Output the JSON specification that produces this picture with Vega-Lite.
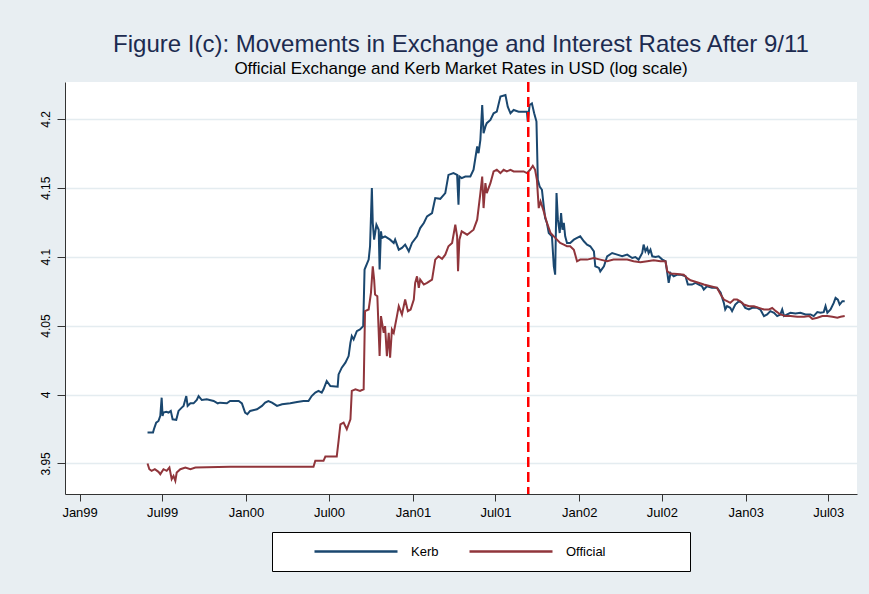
{
  "$schema": "https://vega.github.io/schema/vega-lite/v6.json",
  "width": 792,
  "height": 412,
  "autosize": {"type": "none"},
  "padding": {"left": 65, "top": 82, "right": 12, "bottom": 100},
  "background": "#e8eef2",
  "title": {
    "text": "Figure I(c): Movements in Exchange and Interest Rates After 9/11",
    "subtitle": "Official Exchange and Kerb Market Rates in USD (log scale)",
    "anchor": "middle",
    "font": "Liberation Sans",
    "fontSize": 24,
    "fontWeight": "normal",
    "color": "#1c2b50",
    "subtitleFont": "Liberation Sans",
    "subtitleFontSize": 17,
    "subtitleColor": "#000000",
    "subtitlePadding": 4,
    "offset": 4
  },
  "config": {
    "font": "Liberation Sans",
    "view": {"fill": "white", "stroke": null}
  },
  "datasets": {
    "rates": [
      {"d":"1999-05-30","s":"Kerb","v":3.9724},{"d":"1999-06-11","s":"Kerb","v":3.9724},{"d":"1999-06-13","s":"Kerb","v":3.9748},{"d":"1999-06-18","s":"Kerb","v":3.9796},{"d":"1999-06-23","s":"Kerb","v":3.9808},{"d":"1999-06-27","s":"Kerb","v":3.9845},{"d":"1999-06-30","s":"Kerb","v":3.9977},{"d":"1999-07-02","s":"Kerb","v":3.9845},{"d":"1999-07-04","s":"Kerb","v":3.9869},{"d":"1999-07-10","s":"Kerb","v":3.9874},{"d":"1999-07-15","s":"Kerb","v":3.9869},{"d":"1999-07-20","s":"Kerb","v":3.9881},{"d":"1999-07-24","s":"Kerb","v":3.9820},{"d":"1999-08-01","s":"Kerb","v":3.9816},{"d":"1999-08-06","s":"Kerb","v":3.9881},{"d":"1999-08-13","s":"Kerb","v":3.9905},{"d":"1999-08-17","s":"Kerb","v":3.9917},{"d":"1999-08-23","s":"Kerb","v":3.9989},{"d":"1999-08-26","s":"Kerb","v":3.9917},{"d":"1999-09-01","s":"Kerb","v":3.9936},{"d":"1999-09-08","s":"Kerb","v":3.9936},{"d":"1999-09-15","s":"Kerb","v":3.9960},{"d":"1999-09-19","s":"Kerb","v":3.9989},{"d":"1999-09-26","s":"Kerb","v":3.9960},{"d":"1999-10-07","s":"Kerb","v":3.9965},{"d":"1999-10-22","s":"Kerb","v":3.9953},{"d":"1999-10-31","s":"Kerb","v":3.9936},{"d":"1999-11-05","s":"Kerb","v":3.9941},{"d":"1999-11-20","s":"Kerb","v":3.9936},{"d":"1999-11-27","s":"Kerb","v":3.9953},{"d":"1999-12-05","s":"Kerb","v":3.9953},{"d":"1999-12-16","s":"Kerb","v":3.9953},{"d":"1999-12-23","s":"Kerb","v":3.9936},{"d":"1999-12-30","s":"Kerb","v":3.9869},
      {"d":"2000-01-04","s":"Kerb","v":3.9857},{"d":"2000-01-10","s":"Kerb","v":3.9881},{"d":"2000-01-25","s":"Kerb","v":3.9893},{"d":"2000-02-05","s":"Kerb","v":3.9917},{"d":"2000-02-12","s":"Kerb","v":3.9941},{"d":"2000-02-19","s":"Kerb","v":3.9953},{"d":"2000-02-27","s":"Kerb","v":3.9941},{"d":"2000-03-09","s":"Kerb","v":3.9917},{"d":"2000-03-20","s":"Kerb","v":3.9929},{"d":"2000-04-07","s":"Kerb","v":3.9936},{"d":"2000-04-22","s":"Kerb","v":3.9946},{"d":"2000-05-06","s":"Kerb","v":3.9953},{"d":"2000-05-17","s":"Kerb","v":3.9953},{"d":"2000-05-24","s":"Kerb","v":3.9989},{"d":"2000-06-01","s":"Kerb","v":4.0014},{"d":"2000-06-08","s":"Kerb","v":4.0026},{"d":"2000-06-15","s":"Kerb","v":4.0014},{"d":"2000-06-19","s":"Kerb","v":4.0038},{"d":"2000-06-26","s":"Kerb","v":4.0098},{"d":"2000-07-04","s":"Kerb","v":4.0062},{"d":"2000-07-20","s":"Kerb","v":4.0057},{"d":"2000-07-22","s":"Kerb","v":4.0146},{"d":"2000-07-29","s":"Kerb","v":4.0195},{"d":"2000-08-06","s":"Kerb","v":4.0231},{"d":"2000-08-13","s":"Kerb","v":4.0279},{"d":"2000-08-17","s":"Kerb","v":4.0376},{"d":"2000-08-20","s":"Kerb","v":4.0424},{"d":"2000-08-24","s":"Kerb","v":4.0400},{"d":"2000-08-31","s":"Kerb","v":4.0460},{"d":"2000-09-07","s":"Kerb","v":4.0472},{"d":"2000-09-14","s":"Kerb","v":4.0496},{"d":"2000-09-17","s":"Kerb","v":4.0907},{"d":"2000-09-26","s":"Kerb","v":4.0979},{"d":"2000-09-29","s":"Kerb","v":4.1076},{"d":"2000-10-03","s":"Kerb","v":4.1498},{"d":"2000-10-05","s":"Kerb","v":4.1245},{"d":"2000-10-08","s":"Kerb","v":4.1124},{"d":"2000-10-13","s":"Kerb","v":4.1232},{"d":"2000-10-18","s":"Kerb","v":4.1196},{"d":"2000-10-20","s":"Kerb","v":4.0907},{"d":"2000-10-23","s":"Kerb","v":4.1184},{"d":"2000-10-25","s":"Kerb","v":4.1136},{"d":"2000-11-01","s":"Kerb","v":4.1148},{"d":"2000-11-12","s":"Kerb","v":4.1124},{"d":"2000-11-20","s":"Kerb","v":4.1100},{"d":"2000-11-23","s":"Kerb","v":4.1124},{"d":"2000-12-01","s":"Kerb","v":4.1051},{"d":"2000-12-08","s":"Kerb","v":4.1064},{"d":"2000-12-15","s":"Kerb","v":4.1088},{"d":"2000-12-23","s":"Kerb","v":4.1039},{"d":"2000-12-30","s":"Kerb","v":4.1100},
      {"d":"2001-01-10","s":"Kerb","v":4.1148},{"d":"2001-01-17","s":"Kerb","v":4.1208},{"d":"2001-01-25","s":"Kerb","v":4.1245},{"d":"2001-02-01","s":"Kerb","v":4.1293},{"d":"2001-02-12","s":"Kerb","v":4.1317},{"d":"2001-02-19","s":"Kerb","v":4.1426},{"d":"2001-03-02","s":"Kerb","v":4.1420},{"d":"2001-03-13","s":"Kerb","v":4.1462},{"d":"2001-03-20","s":"Kerb","v":4.1594},{"d":"2001-03-31","s":"Kerb","v":4.1607},{"d":"2001-04-08","s":"Kerb","v":4.1594},{"d":"2001-04-11","s":"Kerb","v":4.1377},{"d":"2001-04-13","s":"Kerb","v":4.1582},{"d":"2001-04-18","s":"Kerb","v":4.1570},{"d":"2001-04-26","s":"Kerb","v":4.1582},{"d":"2001-05-07","s":"Kerb","v":4.1582},{"d":"2001-05-14","s":"Kerb","v":4.1631},{"d":"2001-05-22","s":"Kerb","v":4.1800},{"d":"2001-05-25","s":"Kerb","v":4.1751},{"d":"2001-05-29","s":"Kerb","v":4.1848},{"d":"2001-06-02","s":"Kerb","v":4.2101},{"d":"2001-06-05","s":"Kerb","v":4.1896},{"d":"2001-06-09","s":"Kerb","v":4.1944},{"d":"2001-06-12","s":"Kerb","v":4.1969},{"d":"2001-06-20","s":"Kerb","v":4.1993},{"d":"2001-06-27","s":"Kerb","v":4.2041},{"d":"2001-07-04","s":"Kerb","v":4.2053},{"d":"2001-07-12","s":"Kerb","v":4.2162},{"d":"2001-07-23","s":"Kerb","v":4.2174},{"d":"2001-07-28","s":"Kerb","v":4.2089},{"d":"2001-08-03","s":"Kerb","v":4.2041},{"d":"2001-08-10","s":"Kerb","v":4.2065},{"d":"2001-08-21","s":"Kerb","v":4.2053},{"d":"2001-09-01","s":"Kerb","v":4.2053},{"d":"2001-09-08","s":"Kerb","v":4.2053},{"d":"2001-09-10","s":"Kerb","v":4.1981},{"d":"2001-09-14","s":"Kerb","v":4.2101},{"d":"2001-09-19","s":"Kerb","v":4.2113},{"d":"2001-09-24","s":"Kerb","v":4.2041},{"d":"2001-09-29","s":"Kerb","v":4.1981},{"d":"2001-10-02","s":"Kerb","v":4.1558},{"d":"2001-10-06","s":"Kerb","v":4.1510},{"d":"2001-10-11","s":"Kerb","v":4.1486},{"d":"2001-10-15","s":"Kerb","v":4.1365},{"d":"2001-10-18","s":"Kerb","v":4.1281},{"d":"2001-10-22","s":"Kerb","v":4.1245},{"d":"2001-10-26","s":"Kerb","v":4.1172},{"d":"2001-11-02","s":"Kerb","v":4.1148},{"d":"2001-11-06","s":"Kerb","v":4.0931},{"d":"2001-11-09","s":"Kerb","v":4.0870},{"d":"2001-11-12","s":"Kerb","v":4.1462},{"d":"2001-11-15","s":"Kerb","v":4.1269},{"d":"2001-11-19","s":"Kerb","v":4.1172},{"d":"2001-11-22","s":"Kerb","v":4.1317},{"d":"2001-11-25","s":"Kerb","v":4.1196},{"d":"2001-11-28","s":"Kerb","v":4.1245},{"d":"2001-12-01","s":"Kerb","v":4.1148},{"d":"2001-12-05","s":"Kerb","v":4.1100},{"d":"2001-12-12","s":"Kerb","v":4.1100},{"d":"2001-12-20","s":"Kerb","v":4.1124},{"d":"2001-12-27","s":"Kerb","v":4.1136},
      {"d":"2002-01-03","s":"Kerb","v":4.1148},{"d":"2002-01-11","s":"Kerb","v":4.1112},{"d":"2002-01-18","s":"Kerb","v":4.1088},{"d":"2002-01-25","s":"Kerb","v":4.1076},{"d":"2002-02-02","s":"Kerb","v":4.1039},{"d":"2002-02-05","s":"Kerb","v":4.0931},{"d":"2002-02-13","s":"Kerb","v":4.0919},{"d":"2002-02-16","s":"Kerb","v":4.0894},{"d":"2002-02-24","s":"Kerb","v":4.0931},{"d":"2002-03-03","s":"Kerb","v":4.1003},{"d":"2002-03-14","s":"Kerb","v":4.1027},{"d":"2002-03-25","s":"Kerb","v":4.1015},{"d":"2002-04-05","s":"Kerb","v":4.1003},{"d":"2002-04-16","s":"Kerb","v":4.1015},{"d":"2002-04-27","s":"Kerb","v":4.0991},{"d":"2002-05-04","s":"Kerb","v":4.0998},{"d":"2002-05-11","s":"Kerb","v":4.0979},{"d":"2002-05-19","s":"Kerb","v":4.1027},{"d":"2002-05-22","s":"Kerb","v":4.1088},{"d":"2002-05-26","s":"Kerb","v":4.1039},{"d":"2002-05-30","s":"Kerb","v":4.1064},{"d":"2002-06-02","s":"Kerb","v":4.1027},{"d":"2002-06-06","s":"Kerb","v":4.1051},{"d":"2002-06-10","s":"Kerb","v":4.1003},{"d":"2002-06-17","s":"Kerb","v":4.0998},{"d":"2002-06-24","s":"Kerb","v":4.1003},{"d":"2002-07-02","s":"Kerb","v":4.0979},{"d":"2002-07-09","s":"Kerb","v":4.0967},{"d":"2002-07-13","s":"Kerb","v":4.0882},{"d":"2002-07-16","s":"Kerb","v":4.0810},{"d":"2002-07-20","s":"Kerb","v":4.0882},{"d":"2002-07-27","s":"Kerb","v":4.0858},{"d":"2002-08-04","s":"Kerb","v":4.0870},{"d":"2002-08-11","s":"Kerb","v":4.0870},{"d":"2002-08-22","s":"Kerb","v":4.0858},{"d":"2002-08-27","s":"Kerb","v":4.0798},{"d":"2002-09-05","s":"Kerb","v":4.0798},{"d":"2002-09-13","s":"Kerb","v":4.0810},{"d":"2002-09-20","s":"Kerb","v":4.0798},{"d":"2002-09-27","s":"Kerb","v":4.0786},{"d":"2002-10-01","s":"Kerb","v":4.0762},{"d":"2002-10-08","s":"Kerb","v":4.0786},{"d":"2002-10-19","s":"Kerb","v":4.0774},{"d":"2002-10-30","s":"Kerb","v":4.0774},{"d":"2002-11-07","s":"Kerb","v":4.0738},{"d":"2002-11-14","s":"Kerb","v":4.0665},{"d":"2002-11-17","s":"Kerb","v":4.0617},{"d":"2002-11-21","s":"Kerb","v":4.0641},{"d":"2002-11-28","s":"Kerb","v":4.0629},{"d":"2002-12-02","s":"Kerb","v":4.0605},{"d":"2002-12-09","s":"Kerb","v":4.0653},{"d":"2002-12-17","s":"Kerb","v":4.0677},{"d":"2002-12-24","s":"Kerb","v":4.0665},{"d":"2002-12-31","s":"Kerb","v":4.0629},
      {"d":"2003-01-08","s":"Kerb","v":4.0617},{"d":"2003-01-15","s":"Kerb","v":4.0629},{"d":"2003-01-26","s":"Kerb","v":4.0629},{"d":"2003-02-02","s":"Kerb","v":4.0617},{"d":"2003-02-10","s":"Kerb","v":4.0569},{"d":"2003-02-17","s":"Kerb","v":4.0581},{"d":"2003-02-24","s":"Kerb","v":4.0605},{"d":"2003-03-04","s":"Kerb","v":4.0593},{"d":"2003-03-11","s":"Kerb","v":4.0569},{"d":"2003-03-18","s":"Kerb","v":4.0581},{"d":"2003-03-22","s":"Kerb","v":4.0617},{"d":"2003-03-26","s":"Kerb","v":4.0569},{"d":"2003-04-02","s":"Kerb","v":4.0581},{"d":"2003-04-09","s":"Kerb","v":4.0593},{"d":"2003-04-20","s":"Kerb","v":4.0588},{"d":"2003-05-01","s":"Kerb","v":4.0593},{"d":"2003-05-12","s":"Kerb","v":4.0581},{"d":"2003-05-23","s":"Kerb","v":4.0581},{"d":"2003-05-30","s":"Kerb","v":4.0569},{"d":"2003-06-07","s":"Kerb","v":4.0598},{"d":"2003-06-14","s":"Kerb","v":4.0593},{"d":"2003-06-21","s":"Kerb","v":4.0598},{"d":"2003-06-25","s":"Kerb","v":4.0641},{"d":"2003-06-29","s":"Kerb","v":4.0593},{"d":"2003-07-06","s":"Kerb","v":4.0617},{"d":"2003-07-13","s":"Kerb","v":4.0665},{"d":"2003-07-17","s":"Kerb","v":4.0701},{"d":"2003-07-22","s":"Kerb","v":4.0689},{"d":"2003-07-26","s":"Kerb","v":4.0653},{"d":"2003-08-01","s":"Kerb","v":4.0677},{"d":"2003-08-06","s":"Kerb","v":4.0677},
      {"d":"1999-05-30","s":"Official","v":3.9499},{"d":"1999-06-03","s":"Official","v":3.9458},{"d":"1999-06-08","s":"Official","v":3.9446},{"d":"1999-06-15","s":"Official","v":3.9458},{"d":"1999-06-23","s":"Official","v":3.9439},{"d":"1999-06-27","s":"Official","v":3.9422},{"d":"1999-07-04","s":"Official","v":3.9458},{"d":"1999-07-11","s":"Official","v":3.9446},{"d":"1999-07-17","s":"Official","v":3.9470},{"d":"1999-07-22","s":"Official","v":3.9386},{"d":"1999-07-26","s":"Official","v":3.9410},{"d":"1999-07-30","s":"Official","v":3.9374},{"d":"1999-08-02","s":"Official","v":3.9434},{"d":"1999-08-10","s":"Official","v":3.9458},{"d":"1999-08-21","s":"Official","v":3.9470},{"d":"1999-09-01","s":"Official","v":3.9458},{"d":"1999-09-12","s":"Official","v":3.9470},{"d":"1999-11-27","s":"Official","v":3.9475},
      {"d":"2000-05-28","s":"Official","v":3.9475},{"d":"2000-06-01","s":"Official","v":3.9519},{"d":"2000-06-19","s":"Official","v":3.9519},{"d":"2000-06-23","s":"Official","v":3.9550},{"d":"2000-07-18","s":"Official","v":3.9550},{"d":"2000-07-22","s":"Official","v":3.9664},{"d":"2000-07-26","s":"Official","v":3.9784},{"d":"2000-08-02","s":"Official","v":3.9796},{"d":"2000-08-09","s":"Official","v":3.9748},{"d":"2000-08-17","s":"Official","v":3.9820},{"d":"2000-08-20","s":"Official","v":4.0026},{"d":"2000-08-28","s":"Official","v":4.0038},{"d":"2000-09-07","s":"Official","v":4.0026},{"d":"2000-09-15","s":"Official","v":4.0038},{"d":"2000-09-18","s":"Official","v":4.0605},{"d":"2000-09-26","s":"Official","v":4.0617},{"d":"2000-10-01","s":"Official","v":4.0738},{"d":"2000-10-05","s":"Official","v":4.0931},{"d":"2000-10-08","s":"Official","v":4.0834},{"d":"2000-10-10","s":"Official","v":4.0726},{"d":"2000-10-15","s":"Official","v":4.0713},{"d":"2000-10-20","s":"Official","v":4.0279},{"d":"2000-10-23","s":"Official","v":4.0569},{"d":"2000-10-29","s":"Official","v":4.0448},{"d":"2000-11-01","s":"Official","v":4.0496},{"d":"2000-11-05","s":"Official","v":4.0279},{"d":"2000-11-09","s":"Official","v":4.0448},{"d":"2000-11-12","s":"Official","v":4.0267},{"d":"2000-11-16","s":"Official","v":4.0472},{"d":"2000-11-20","s":"Official","v":4.0448},{"d":"2000-11-27","s":"Official","v":4.0569},{"d":"2000-12-01","s":"Official","v":4.0641},{"d":"2000-12-08","s":"Official","v":4.0581},{"d":"2000-12-15","s":"Official","v":4.0689},{"d":"2000-12-21","s":"Official","v":4.0605},{"d":"2000-12-27","s":"Official","v":4.0617},
      {"d":"2001-01-03","s":"Official","v":4.0689},{"d":"2001-01-06","s":"Official","v":4.0810},{"d":"2001-01-10","s":"Official","v":4.0858},{"d":"2001-01-14","s":"Official","v":4.0774},{"d":"2001-01-17","s":"Official","v":4.0834},{"d":"2001-01-25","s":"Official","v":4.0798},{"d":"2001-02-01","s":"Official","v":4.0810},{"d":"2001-02-12","s":"Official","v":4.0834},{"d":"2001-02-19","s":"Official","v":4.0979},{"d":"2001-02-26","s":"Official","v":4.1003},{"d":"2001-03-06","s":"Official","v":4.0984},{"d":"2001-03-13","s":"Official","v":4.1015},{"d":"2001-03-20","s":"Official","v":4.1076},{"d":"2001-03-28","s":"Official","v":4.1100},{"d":"2001-04-04","s":"Official","v":4.1232},{"d":"2001-04-08","s":"Official","v":4.1148},{"d":"2001-04-10","s":"Official","v":4.0894},{"d":"2001-04-13","s":"Official","v":4.1124},{"d":"2001-04-18","s":"Official","v":4.1184},{"d":"2001-04-30","s":"Official","v":4.1160},{"d":"2001-05-14","s":"Official","v":4.1196},{"d":"2001-05-22","s":"Official","v":4.1269},{"d":"2001-05-29","s":"Official","v":4.1462},{"d":"2001-06-02","s":"Official","v":4.1582},{"d":"2001-06-05","s":"Official","v":4.1353},{"d":"2001-06-09","s":"Official","v":4.1534},{"d":"2001-06-12","s":"Official","v":4.1462},{"d":"2001-06-20","s":"Official","v":4.1534},{"d":"2001-06-27","s":"Official","v":4.1619},{"d":"2001-07-04","s":"Official","v":4.1631},{"d":"2001-07-12","s":"Official","v":4.1607},{"d":"2001-07-19","s":"Official","v":4.1631},{"d":"2001-07-26","s":"Official","v":4.1619},{"d":"2001-08-03","s":"Official","v":4.1631},{"d":"2001-08-10","s":"Official","v":4.1619},{"d":"2001-08-21","s":"Official","v":4.1619},{"d":"2001-09-01","s":"Official","v":4.1619},{"d":"2001-09-08","s":"Official","v":4.1607},{"d":"2001-09-15","s":"Official","v":4.1631},{"d":"2001-09-21","s":"Official","v":4.1660},{"d":"2001-09-26","s":"Official","v":4.1631},{"d":"2001-09-30","s":"Official","v":4.1558},{"d":"2001-10-04","s":"Official","v":4.1353},{"d":"2001-10-08","s":"Official","v":4.1401},{"d":"2001-10-15","s":"Official","v":4.1329},{"d":"2001-10-22","s":"Official","v":4.1245},{"d":"2001-10-30","s":"Official","v":4.1172},{"d":"2001-11-06","s":"Official","v":4.1148},{"d":"2001-11-13","s":"Official","v":4.1124},{"d":"2001-11-20","s":"Official","v":4.1100},{"d":"2001-11-28","s":"Official","v":4.1088},{"d":"2001-12-05","s":"Official","v":4.1076},{"d":"2001-12-12","s":"Official","v":4.1076},{"d":"2001-12-20","s":"Official","v":4.1051},{"d":"2001-12-27","s":"Official","v":4.0967},
      {"d":"2002-01-03","s":"Official","v":4.0979},{"d":"2002-01-18","s":"Official","v":4.0979},{"d":"2002-02-02","s":"Official","v":4.0991},{"d":"2002-02-16","s":"Official","v":4.0979},{"d":"2002-03-03","s":"Official","v":4.0967},{"d":"2002-03-17","s":"Official","v":4.0979},{"d":"2002-04-01","s":"Official","v":4.0979},{"d":"2002-04-16","s":"Official","v":4.0979},{"d":"2002-04-30","s":"Official","v":4.0967},{"d":"2002-05-15","s":"Official","v":4.0960},{"d":"2002-05-30","s":"Official","v":4.0967},{"d":"2002-06-13","s":"Official","v":4.0974},{"d":"2002-06-28","s":"Official","v":4.0967},{"d":"2002-07-09","s":"Official","v":4.0967},{"d":"2002-07-13","s":"Official","v":4.0894},{"d":"2002-07-20","s":"Official","v":4.0878},{"d":"2002-08-04","s":"Official","v":4.0875},{"d":"2002-08-18","s":"Official","v":4.0870},{"d":"2002-08-25","s":"Official","v":4.0846},{"d":"2002-09-02","s":"Official","v":4.0829},{"d":"2002-09-16","s":"Official","v":4.0815},{"d":"2002-10-01","s":"Official","v":4.0798},{"d":"2002-10-16","s":"Official","v":4.0786},{"d":"2002-10-30","s":"Official","v":4.0774},{"d":"2002-11-07","s":"Official","v":4.0726},{"d":"2002-11-14","s":"Official","v":4.0689},{"d":"2002-11-21","s":"Official","v":4.0677},{"d":"2002-11-28","s":"Official","v":4.0665},{"d":"2002-12-06","s":"Official","v":4.0689},{"d":"2002-12-13","s":"Official","v":4.0689},{"d":"2002-12-20","s":"Official","v":4.0677},{"d":"2002-12-28","s":"Official","v":4.0653},
      {"d":"2003-01-08","s":"Official","v":4.0641},{"d":"2003-01-19","s":"Official","v":4.0641},{"d":"2003-01-30","s":"Official","v":4.0629},{"d":"2003-02-10","s":"Official","v":4.0617},{"d":"2003-02-21","s":"Official","v":4.0617},{"d":"2003-02-28","s":"Official","v":4.0629},{"d":"2003-03-08","s":"Official","v":4.0605},{"d":"2003-03-18","s":"Official","v":4.0581},{"d":"2003-03-29","s":"Official","v":4.0569},{"d":"2003-04-09","s":"Official","v":4.0569},{"d":"2003-04-24","s":"Official","v":4.0564},{"d":"2003-05-09","s":"Official","v":4.0564},{"d":"2003-05-20","s":"Official","v":4.0569},{"d":"2003-05-27","s":"Official","v":4.0549},{"d":"2003-06-07","s":"Official","v":4.0557},{"d":"2003-06-18","s":"Official","v":4.0569},{"d":"2003-06-29","s":"Official","v":4.0569},{"d":"2003-07-10","s":"Official","v":4.0564},{"d":"2003-07-21","s":"Official","v":4.0557},{"d":"2003-07-28","s":"Official","v":4.0564},{"d":"2003-08-06","s":"Official","v":4.0569}
    ]
  },
  "layer": [
    {
      "data": {"name": "rates"},
      "mark": {"type": "line", "strokeWidth": 2},
      "encoding": {
        "x": {
          "field": "d",
          "type": "temporal",
          "scale": {
            "type": "utc",
            "domain": [
              {"year": 1998, "month": 11, "date": 30, "utc": true},
              {"year": 2003, "month": 9, "date": 2, "utc": true}
            ]
          },
          "axis": {
            "values": [
              {"year": 1999, "month": 1, "date": 1, "utc": true},
              {"year": 1999, "month": 7, "date": 1, "utc": true},
              {"year": 2000, "month": 1, "date": 1, "utc": true},
              {"year": 2000, "month": 7, "date": 1, "utc": true},
              {"year": 2001, "month": 1, "date": 1, "utc": true},
              {"year": 2001, "month": 7, "date": 1, "utc": true},
              {"year": 2002, "month": 1, "date": 1, "utc": true},
              {"year": 2002, "month": 7, "date": 1, "utc": true},
              {"year": 2003, "month": 1, "date": 1, "utc": true},
              {"year": 2003, "month": 7, "date": 1, "utc": true}
            ],
            "format": "%b%y",
            "title": null,
            "grid": false,
            "tickSize": 7,
            "tickColor": "#333333",
            "domainColor": "#333333",
            "labelFontSize": 13,
            "labelColor": "#000000",
            "labelPadding": 5,
            "labelFlush": false,
            "labelOverlap": false
          }
        },
        "y": {
          "field": "v",
          "type": "quantitative",
          "scale": {"domain": [3.9278, 4.2268], "nice": false, "zero": false},
          "axis": {
            "values": [3.95, 4, 4.05, 4.1, 4.15, 4.2],
            "format": "~g",
            "title": null,
            "grid": true,
            "gridColor": "#e4ecf0",
            "gridWidth": 1.5,
            "tickSize": 8,
            "tickColor": "#333333",
            "domainColor": "#333333",
            "labelAngle": -90,
            "labelAlign": "center",
            "labelBaseline": "bottom",
            "labelFontSize": 12,
            "labelColor": "#000000",
            "labelPadding": 5
          }
        },
        "color": {
          "field": "s",
          "type": "nominal",
          "scale": {"domain": ["Kerb", "Official"], "range": ["#1a476f", "#90353b"]},
          "legend": {
            "orient": "none",
            "legendX": 207,
            "legendY": 450,
            "direction": "horizontal",
            "title": "\u00a0",
            "titleOrient": "right",
            "titleFontSize": 1,
            "titlePadding": 73,
            "symbolType": "stroke",
            "symbolSize": 6889,
            "symbolStrokeWidth": 2.5,
            "symbolOffset": 29,
            "clipHeight": 15,
            "labelFontSize": 13,
            "labelColor": "#000000",
            "labelOffset": 12,
            "columnPadding": 0,
            "padding": 12,
            "fillColor": "white",
            "strokeColor": "#000000"
          }
        }
      }
    },
    {
      "data": {"values": [{"d": "2001-09-11"}]},
      "mark": {"type": "rule", "color": "#ff0000", "strokeWidth": 2.5, "strokeDash": [10, 5]},
      "encoding": {"x": {"field": "d", "type": "temporal"}}
    }
  ]
}
